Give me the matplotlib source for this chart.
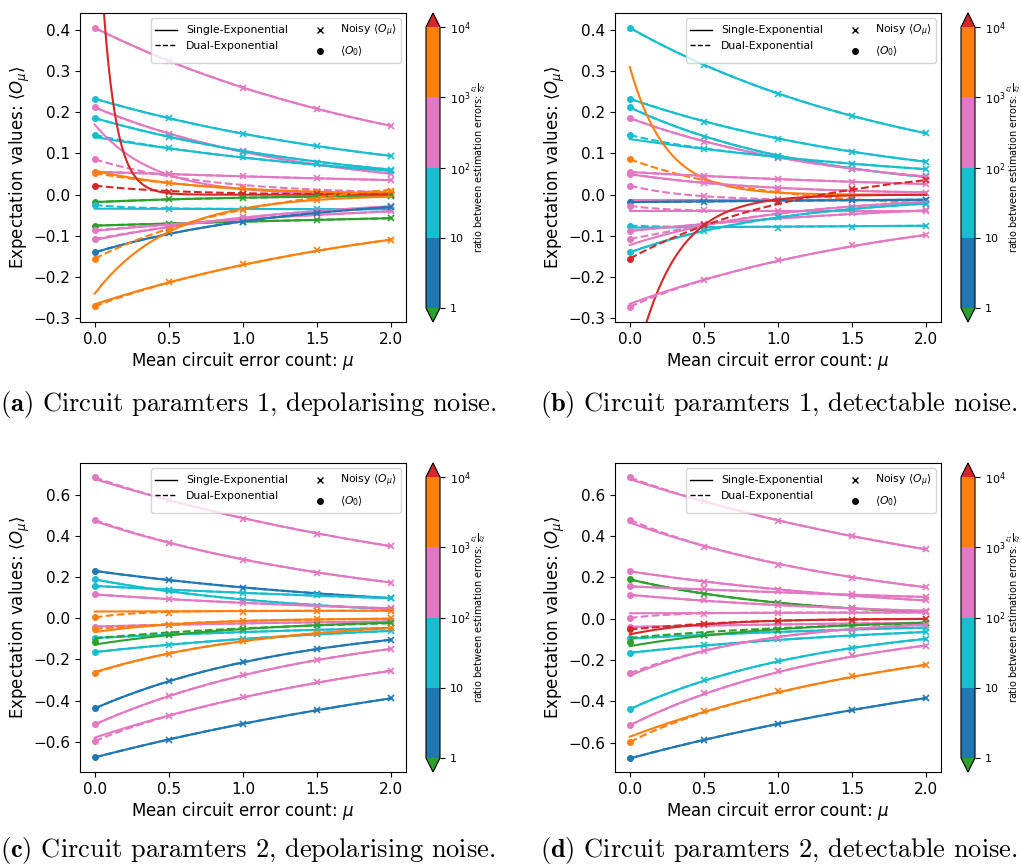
import numpy as np
import matplotlib
matplotlib.use('Agg')
import matplotlib.pyplot as plt
from matplotlib.colors import ListedColormap, BoundaryNorm
from matplotlib.cm import ScalarMappable
from matplotlib.lines import Line2D

mu_noisy = [0.5, 1.0, 1.5, 2.0]

# (a) circuit parameters 1, depolarising noise
ratio_a = [300, 30, 300, 30, 30, 300, 300, 3000, 2e4, 0.5, 30, 0.5, 300, 300, 5, 3000, 3000]
o0_a = [0.405, 0.233, 0.212, 0.186, 0.145, 0.086, 0.055, 0.052, 0.022, -0.018,
        -0.025, -0.075, -0.086, -0.107, -0.140, -0.155, -0.271]
noisy_a = [[0.324, 0.259, 0.208, 0.167], [0.185, 0.147, 0.118, 0.094],
           [0.148, 0.105, 0.076, 0.051], [0.140, 0.104, 0.078, 0.061],
           [0.113, 0.091, 0.074, 0.058], [0.051, 0.018, 0.006, 0.000],
           [0.050, 0.046, 0.041, 0.035], [0.029, 0.013, 0.006, 0.003],
           [0.007, 0.002, 0.001, 0.000], [-0.011, -0.007, -0.004, -0.003],
           [-0.034, -0.034, -0.035, -0.036], [-0.070, -0.066, -0.062, -0.057],
           [-0.075, -0.058, -0.048, -0.040], [-0.078, -0.055, -0.040, -0.028],
           [-0.093, -0.066, -0.044, -0.030], [-0.088, -0.038, -0.012, 0.010],
           [-0.213, -0.169, -0.135, -0.109]]
amp_a = [0.405, 0.233, 0.212, 0.186, 0.140, 0.170, 0.056, 0.058, 0.87, -0.018,
         -0.034, -0.075, -0.088, -0.110, -0.140, -0.240, -0.266]
rate_a = [0.443, 0.454, 0.712, 0.56, 0.44, 2.53, 0.23, 1.4, 11.0, 0.9,
          -0.02, 0.137, 0.39, 0.68, 0.77, 1.96, 0.446]
dual_a = {5: (0.086, 1.3, 0.0, 0.0), 8: (0.022, 1.8, 0.0, 0.0),
          15: (-0.20, 0.9, 0.045, 0.0)}

# (b) circuit parameters 1, detectable noise
ratio_b = [30, 30, 30, 300, 30, 3000, 300, 300, 300, 5, 300, 30, 300, 300, 30, 2e4, 300]
o0_b = [0.405, 0.233, 0.212, 0.186, 0.145, 0.086, 0.055, 0.050, 0.022, -0.018,
        -0.027, -0.075, -0.088, -0.107, -0.140, -0.155, -0.272]
noisy_b = [[0.314, 0.244, 0.191, 0.149], [0.177, 0.135, 0.103, 0.080],
           [0.140, 0.093, 0.063, 0.045], [0.128, 0.090, 0.062, 0.044],
           [0.112, 0.091, 0.074, 0.062], [0.040, 0.009, -0.007, -0.022],
           [0.046, 0.038, 0.031, 0.026], [0.029, 0.017, 0.010, 0.005],
           [-0.002, -0.010, -0.013, -0.014], [-0.017, -0.015, -0.013, -0.012],
           [-0.038, -0.040, -0.040, -0.040], [-0.080, -0.080, -0.078, -0.076],
           [-0.070, -0.055, -0.045, -0.038], [-0.075, -0.045, -0.030, -0.020],
           [-0.087, -0.055, -0.035, -0.022], [-0.073, -0.017, 0.013, 0.035],
           [-0.206, -0.158, -0.123, -0.097]]
amp_b = [0.405, 0.233, 0.212, 0.186, 0.135, 0.31, 0.055, 0.050, -0.013, -0.018,
         -0.040, -0.080, -0.088, -0.122, -0.140, -0.47, -0.265]
rate_b = [0.5, 0.535, 0.80, 0.72, 0.39, 4.1, 0.375, 1.1, 0.0, 0.2,
          0.0, 0.03, 0.42, 0.97, 0.93, 3.7, 0.5]
dual_b = {5: (0.12, 1.1, -0.034, 0.0), 8: (0.036, 2.5, -0.014, 0.0),
          15: (-0.235, 0.83, 0.08, 0.0)}

# (c) circuit parameters 2, depolarising noise
ratio_c = [300, 300, 5, 30, 30, 300, 3000, 300, 3000, 30, 0.5, 30, 3000, 5, 300, 300, 5]
o0_c = [0.683, 0.477, 0.229, 0.188, 0.156, 0.115, 0.003, -0.041, -0.052, -0.096,
        -0.115, -0.165, -0.266, -0.438, -0.516, -0.597, -0.676]
noisy_c = [[0.572, 0.483, 0.410, 0.349], [0.365, 0.282, 0.219, 0.172],
           [0.183, 0.148, 0.118, 0.097], [0.131, 0.088, 0.060, 0.044],
           [0.138, 0.123, 0.110, 0.097], [0.091, 0.073, 0.059, 0.048],
           [0.025, 0.032, 0.036, 0.036], [-0.035, -0.027, -0.021, -0.016],
           [-0.031, -0.015, -0.006, 0.000], [-0.078, -0.062, -0.054, -0.048],
           [-0.080, -0.055, -0.035, -0.022], [-0.130, -0.100, -0.076, -0.062],
           [-0.173, -0.112, -0.073, -0.048], [-0.305, -0.214, -0.151, -0.105],
           [-0.379, -0.276, -0.201, -0.148], [-0.475, -0.381, -0.310, -0.256],
           [-0.590, -0.514, -0.446, -0.389]]
amp_c = [0.675, 0.470, 0.229, 0.188, 0.156, 0.115, 0.032, -0.041, -0.068, -0.096,
         -0.128, -0.165, -0.262, -0.438, -0.516, -0.580, -0.676]
rate_c = [0.33, 0.50, 0.43, 0.73, 0.24, 0.44, -0.06, 0.47, 1.57, 0.35,
          0.88, 0.49, 0.85, 0.714, 0.62, 0.41, 0.276]
dual_c = {6: (0.036, 0.0, -0.033, 3.5), 10: (-0.098, 0.68, 0.0, 0.0)}

# (d) circuit parameters 2, detectable noise
ratio_d = [300, 300, 300, 0.5, 300, 300, 300, 300, 2e4, 30, 0.5, 30, 300, 30, 300, 3000, 5]
o0_d = [0.683, 0.478, 0.229, 0.190, 0.156, 0.115, 0.003, -0.040, -0.052, -0.096,
        -0.115, -0.165, -0.264, -0.438, -0.516, -0.597, -0.676]
noisy_d = [[0.568, 0.473, 0.401, 0.339], [0.349, 0.259, 0.196, 0.151],
           [0.177, 0.138, 0.110, 0.088], [0.120, 0.076, 0.050, 0.031],
           [0.146, 0.135, 0.117, 0.105], [0.088, 0.066, 0.050, 0.037],
           [0.022, 0.028, 0.030, 0.030], [-0.033, -0.027, -0.023, -0.020],
           [-0.028, -0.013, -0.006, 0.000], [-0.077, -0.062, -0.052, -0.044],
           [-0.080, -0.055, -0.035, -0.020], [-0.128, -0.100, -0.080, -0.064],
           [-0.157, -0.095, -0.053, -0.029], [-0.298, -0.203, -0.141, -0.097],
           [-0.360, -0.255, -0.178, -0.130], [-0.449, -0.349, -0.279, -0.224],
           [-0.589, -0.511, -0.443, -0.384]]
amp_d = [0.675, 0.465, 0.229, 0.190, 0.156, 0.115, 0.026, -0.040, -0.076, -0.096,
         -0.133, -0.165, -0.276, -0.438, -0.516, -0.571, -0.676]
rate_d = [0.35, 0.56, 0.48, 0.9, 0.2, 0.56, -0.07, 0.35, 2.0, 0.40,
          0.95, 0.47, 1.13, 0.75, 0.69, 0.47, 0.283]
dual_d = {6: (0.030, 0.0, -0.027, 3.5), 10: (-0.093, 0.7, 0.0, 0.0)}

tags = ['(a)', '(b)', '(c)', '(d)']
captions = ['Circuit paramters 1, depolarising noise.',
            'Circuit paramters 1, detectable noise.',
            'Circuit paramters 2, depolarising noise.',
            'Circuit paramters 2, detectable noise.']

bounds = [1, 10, 100, 1000, 10000]
cmap = ListedColormap(['tab:blue', 'tab:cyan', 'tab:pink', 'tab:orange'])
cmap = cmap.with_extremes(under='tab:green', over='tab:red')
norm = BoundaryNorm(bounds, cmap.N)

fig = plt.figure(figsize=(10.22, 8.66), dpi=100)
W, H = 1022, 866


def box(x0, y0, x1, y1):
    return [x0 / W, 1 - y1 / H, (x1 - x0) / W, (y1 - y0) / H]


panels = [
    (ratio_a, o0_a, noisy_a, amp_a, rate_a, dual_a, (-0.309, 0.441), 80, 13),
    (ratio_b, o0_b, noisy_b, amp_b, rate_b, dual_b, (-0.309, 0.441), 615, 13),
    (ratio_c, o0_c, noisy_c, amp_c, rate_c, dual_c, (-0.747, 0.753), 80, 463),
    (ratio_d, o0_d, noisy_d, amp_d, rate_d, dual_d, (-0.742, 0.753), 615, 463),
]

mu = np.linspace(0, 2, 300)

for p, (ratio, o0, noisy, amp, rate, dual, ylim, x0, y0) in enumerate(panels):
    ax = fig.add_axes(box(x0, y0, x0 + 326, y0 + 309))
    for i in range(len(o0)):
        c = cmap(norm(ratio[i]))
        single = amp[i] * np.exp(-rate[i] * mu)
        if i in dual:
            a1, k1, a2, k2 = dual[i]
        else:
            a1, k1, a2, k2 = amp[i], rate[i], o0[i] - amp[i], 4.0
        double = a1 * np.exp(-k1 * mu) + a2 * np.exp(-k2 * mu)
        ax.plot(mu, single, color=c, lw=1.5, ls='-')
        ax.plot(mu, double, color=c, lw=1.5, ls='--')
        ax.plot(mu_noisy, noisy[i], color=c, ls='none', marker='x', ms=4, mew=1.2)
        ax.plot([0], [o0[i]], color=c, ls='none', marker='o', ms=4)
    ax.set_xlim(-0.1, 2.1)
    ax.set_ylim(*ylim)
    ax.set_xticks([0.0, 0.5, 1.0, 1.5, 2.0])
    ax.tick_params(labelsize=11)
    ax.set_xlabel(r'Mean circuit error count: $\mu$', fontsize=12, labelpad=2)
    ax.set_ylabel(r'Expectation values: $\langle O_{\mu} \rangle$', fontsize=12, labelpad=1)

    handles = [Line2D([], [], color='black', lw=1, ls='-'),
               Line2D([], [], color='black', lw=1, ls='--'),
               Line2D([], [], color='black', ls='none', marker='x', ms=4),
               Line2D([], [], color='black', ls='none', marker='o', ms=4)]
    labels = ['Single-Exponential', 'Dual-Exponential',
              r'Noisy $\langle O_{\mu} \rangle$', r'$\langle O_0 \rangle$']
    ax.legend(handles, labels, loc='upper right', ncol=2, fontsize=7.8)

    cx = 426 if x0 < 500 else 961
    cax = fig.add_axes(box(cx, y0, cx + 14, y0 + 309))
    cb = fig.colorbar(ScalarMappable(norm=norm, cmap=cmap), cax=cax,
                      extend='both', ticks=bounds)
    cb.set_ticklabels(['1', '10', r'$10^2$', r'$10^3$', r'$10^4$'])
    cb.ax.tick_params(labelsize=8)
    cb.set_label(r'ratio between estimation errors: $\frac{\epsilon_1}{\epsilon_2}$',
                 fontsize=7, labelpad=0)

    tx = 0 if x0 < 500 else 540
    ty = 404 if y0 < 100 else 850
    fig.text(tx / W, 1 - ty / H, r'$\mathbf{' + tags[p] + '}$ ' + captions[p],
             fontsize=19, family='cmr10', math_fontfamily='cm',
             va='center', ha='left')

fig.savefig('out.png', dpi=100)
